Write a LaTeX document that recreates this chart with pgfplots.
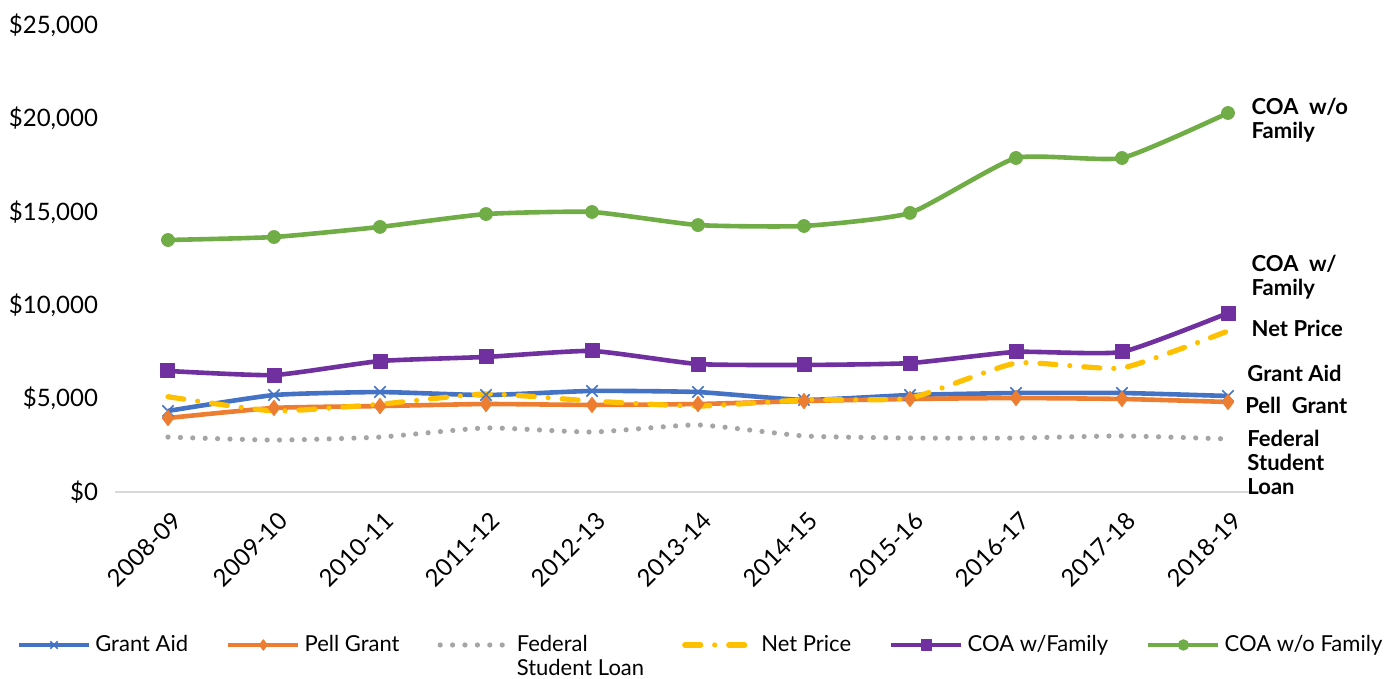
\documentclass[border=0pt]{standalone}
\usepackage{fontspec}
\setmainfont{Lato}
\usepackage{pgfplots}
\pgfplotsset{compat=1.18}
\definecolor{cBlue}{HTML}{4472C4}
\definecolor{cOrange}{HTML}{ED7D31}
\definecolor{cGray}{HTML}{A5A5A5}
\definecolor{cYellow}{HTML}{FFC000}
\definecolor{cPurple}{HTML}{7030A0}
\definecolor{cGreen}{HTML}{70AD47}
\begin{document}
\begin{tikzpicture}
\path[use as bounding box] (-57.5pt,-93.5pt) rectangle (641.5pt,246pt);
\begin{axis}[
  at={(0pt,0pt)}, anchor=south west,
  scale only axis, width=583pt, height=233.5pt,
  xmin=-0.5, xmax=10.5, ymin=0, ymax=25000,
  scaled y ticks=false,
  axis x line*=bottom, axis y line*=left,
  y axis line style={draw=none},
  x axis line style={draw=black!15, line width=0.8pt},
  major tick length=0pt,
  xtick={0,...,10},
  xticklabels={2008-09,2009-10,2010-11,2011-12,2012-13,2013-14,2014-15,2015-16,2016-17,2017-18,2018-19},
  ytick={0,5000,10000,15000,20000,25000},
  yticklabels={{\$0},{\$5,000},{\$10,000},{\$15,000},{\$20,000},{\$25,000}},
  tick label style={font=\fontsize{12}{14}\selectfont},
  yticklabel style={anchor=east, xshift=-5pt},
  xticklabel style={rotate=45, anchor=north east, xshift=-2pt, yshift=-4pt},
  legend columns=6,
  legend style={at={(axis description cs:0.503,-0.297)}, anchor=north, draw=none,
    font=\fontsize{11}{12}\selectfont, inner sep=0pt,
    /tikz/every even column/.append style={column sep=17pt},
    /tikz/every odd column/.append style={column sep=0pt}},
  legend cell align=left,
  legend image code/.code={\draw[mark repeat=2,mark phase=2,#1] plot coordinates {(0pt,0pt) (17.5pt,0pt) (35pt,0pt)};},
  legend image post style={mark size=2.6pt},
  every axis plot/.append style={line width=2.3pt, line join=round},
  clip=false,
]
% Grant Aid
\addplot[cBlue, smooth, tension=0.3, mark=x, mark size=4pt, mark options={line width=0.8pt}] coordinates {
(0,4340) (1,5190) (2,5350) (3,5190) (4,5410) (5,5350) (6,4930) (7,5190) (8,5300) (9,5300) (10,5140)};
\addlegendentry{Grant Aid}
% Pell Grant
\addplot[cOrange, smooth, tension=0.3, mark=diamond*, mark size=3.8pt, mark options={line width=0.5pt}] coordinates {
(0,3960) (1,4500) (2,4600) (3,4710) (4,4660) (5,4710) (6,4870) (7,4980) (8,5030) (9,4980) (10,4820)};
\addlegendentry{Pell Grant}
% Federal Student Loan
\addplot[cGray, smooth, tension=0.3, line width=2.6pt, line cap=round, dash pattern=on 0pt off 6.2pt] coordinates {
(0,2940) (1,2780) (2,2940) (3,3430) (4,3210) (5,3590) (6,3000) (7,2890) (8,2890) (9,3000) (10,2840)};
\addlegendentry{\begin{tabular}[t]{@{}l@{}}Federal\\Student Loan\end{tabular}}
% Net Price
\addplot[cYellow, smooth, tension=0.3, line width=2.6pt, line cap=round, dash pattern=on 8pt off 7pt on 0pt off 7pt] coordinates {
(0,5100) (1,4340) (2,4700) (3,5250) (4,4870) (5,4600) (6,4930) (7,5030) (8,6900) (9,6640) (10,8620)};
\addlegendentry{Net Price}
% COA w/Family
\addplot[cPurple, smooth, tension=0.3, mark=square*, mark size=3.5pt, mark options={line width=0.5pt}] coordinates {
(0,6480) (1,6260) (2,7010) (3,7230) (4,7550) (5,6850) (6,6800) (7,6900) (8,7500) (9,7500) (10,9580)};
\addlegendentry{COA w/Family}
% COA w/o Family
\addplot[cGreen, smooth, tension=0.3, mark=*, mark size=3.2pt, mark options={line width=0.5pt}] coordinates {
(0,13490) (1,13650) (2,14190) (3,14880) (4,14990) (5,14290) (6,14240) (7,14940) (8,17880) (9,17880) (10,20290)};
\addlegendentry{COA w/o Family}
\begin{scope}[every node/.style={anchor=west, align=left, inner sep=0pt, font=\fontsize{11}{12}\selectfont\bfseries}]
\node at (axis cs:10.22,19914) {COA\ \ w/o\\Family};
\node at (axis cs:10.22,11510) {COA\ \ w/\\Family};
\node at (axis cs:10.22,8780) {Net Price};
\node at (axis cs:10.18,6370) {Grant Aid};
\node at (axis cs:10.16,4660) {Pell\ \ Grant};
\node at (axis cs:10.18,1606) {Federal\\Student\\Loan};
\end{scope}
\end{axis}
\end{tikzpicture}
\end{document}
